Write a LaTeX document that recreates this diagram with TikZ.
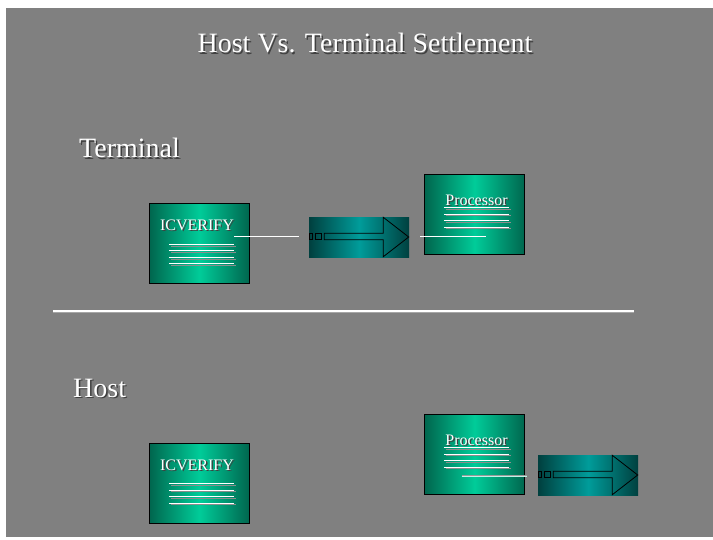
\documentclass[tikz,border=0pt]{standalone}
\usepackage{fontspec}
\setmainfont{Liberation Serif}
\definecolor{bggray}{HTML}{808080}
\definecolor{gdark}{HTML}{00664E}
\definecolor{gbright}{HTML}{00CC99}
\definecolor{tdark}{HTML}{00403F}
\definecolor{tbright}{HTML}{009C9A}
\newcommand{\shtext}[1]{\leavevmode\rlap{\kern1.4pt\raisebox{-1.4pt}{\textcolor{black!75}{#1}}}\textcolor{white}{#1}}
\tikzset{
  docbox/.style={draw=black, line width=0.8pt, rectangle, inner sep=0pt,
    minimum width=100pt, minimum height=79.5pt, anchor=north west,
    shading=axis, left color=gdark, right color=gdark, middle color=gbright, shading angle=90},
  arrbox/.style={rectangle, inner sep=0pt, minimum width=100pt, minimum height=40pt,
    anchor=north west, shading=axis, left color=tdark, right color=tdark, middle color=tbright, shading angle=90},
  bigtxt/.style={inner sep=0pt, font=\fontsize{28}{30}\selectfont},
  smalltxt/.style={inner sep=0pt, font=\fontsize{16}{18}\selectfont},
  doclineshadow/.style={draw=black!45, line width=1pt},
  docline/.style={draw=white, line width=0.9pt},
  conn/.style={draw=white, line width=1pt},
  arrowline/.style={draw=black, line width=0.8pt},
}
\newcommand{\mydoclines}[3]{% x0, y0 (top-left of box), first line offset
  \foreach \k in {0,1,2,3}{
    \draw[doclineshadow] (#1+22,#2+#3+\k*6.5+1.7) -- (#1+87,#2+#3+\k*6.5+1.7);
    \draw[docline] (#1+20,#2+#3+\k*6.5) -- (#1+85,#2+#3+\k*6.5);
  }}
\newcommand{\myarrowshape}[2]{% x0, y0 top-left of arrow box
  \draw[arrowline] (#1+0.5,#2+16.5) rectangle (#1+3.7,#2+22.7);
  \draw[arrowline] (#1+6.7,#2+16.5) rectangle (#1+12.7,#2+22.7);
  \draw[arrowline] (#1+15.3,#2+16.3) -- (#1+74.3,#2+16.3) -- (#1+74.3,#2+0.3)
     -- (#1+99.7,#2+20) -- (#1+74.3,#2+39.7) -- (#1+74.3,#2+22.7) -- (#1+15.3,#2+22.7) -- cycle;}
\begin{document}
\begin{tikzpicture}[x=1pt,y=-1pt]
\useasboundingbox (0,0) rectangle (713,539);
\fill[white] (0,0) rectangle (713,539);
\fill[bggray] (6,8) rectangle (713,537);

% title
\node[bigtxt] (title) at (365,44) {\shtext{Host Vs. Terminal Settlement}};

% section labels
\node[bigtxt, anchor=west] (lterm) at (79,149) {\shtext{Terminal}};
\node[bigtxt, anchor=west] (lhost) at (73,389) {\shtext{Host}};

% separator
\coordinate (sepL) at (53,311);
\coordinate (sepR) at (634,311);
\draw[black!35, line width=1pt] ([yshift=-1.8pt]sepL) -- ([yshift=-1.8pt]sepR);
\draw[white, line width=2.6pt] (sepL) -- (sepR);

% ---------- Terminal ----------
\node[docbox] (icv1) at (149,203.3) {};
\node[smalltxt] (icv1t) at (197,225.7) {\shtext{ICVERIFY}};
\mydoclines{149}{203.3}{41}

\node[arrbox] (arr1) at (309,217) {};
\myarrowshape{309}{217}

\node[docbox] (proc1) at (424.3,174.3) {};
\node[smalltxt] (proc1t) at (476.5,200.7) {\shtext{Processor}};
\mydoclines{424.3}{174.3}{33.4}

\coordinate (c1a) at (234,236.3);
\coordinate (c1b) at (298.7,236.3);
\draw[conn] (c1a) -- (c1b);
\coordinate (c2a) at (420,236.7);
\coordinate (c2b) at (486,236.7);
\draw[conn] (c2a) -- (c2b);

% ---------- Host ----------
\node[docbox] (icv2) at (149,443.3) {};
\node[smalltxt] (icv2t) at (197,465.7) {\shtext{ICVERIFY}};
\mydoclines{149}{443.3}{40.4}

\node[docbox] (proc2) at (424.3,414.3) {};
\node[smalltxt] (proc2t) at (476.5,440.7) {\shtext{Processor}};
\mydoclines{424.3}{414.3}{33.4}

\node[arrbox] (arr2) at (538,455) {};
\myarrowshape{538}{455}

\coordinate (c3a) at (461.7,476.7);
\coordinate (c3b) at (527.3,476.7);
\draw[black!40, line width=1pt] ([yshift=1.5pt]c3a) -- ([yshift=1.5pt]c3b);
\draw[conn, draw=white!75!gbright] (c3a) -- (c3b);
\end{tikzpicture}
\end{document}
